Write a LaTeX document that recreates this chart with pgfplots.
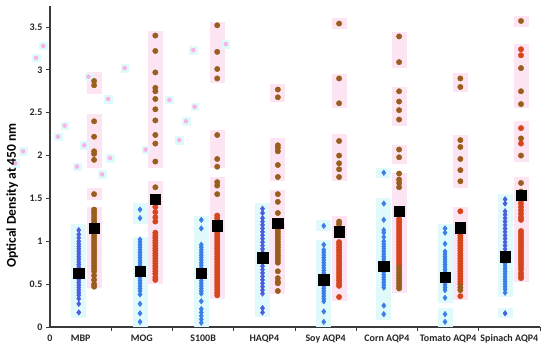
\documentclass[border=0pt]{standalone}
\usepackage{fontspec}
\setmainfont{Carlito}
\usepackage{pgfplots}
\pgfplotsset{compat=1.18}
\definecolor{dotblue}{HTML}{3C7DE6}
\definecolor{mbpblue}{HTML}{4E5CE0}
\definecolor{dotbrown}{HTML}{9A5E1C}
\definecolor{dotred}{HTML}{D6461C}
\definecolor{bandpink}{HTML}{FCE4F3}
\definecolor{bandcyan}{HTML}{E0FAFC}
\definecolor{straypink}{HTML}{F7B2E6}
\definecolor{axisgray}{HTML}{3A3A3A}
\begin{document}
\begin{tikzpicture}
\begin{axis}[
  scale only axis, width=490pt, height=321pt,
  xmin=0, xmax=8, ymin=0, ymax=3.745,
  axis lines*=left,
  axis line style={axisgray, line width=1.2pt},
  clip=false,
  xtick={1,...,8}, xticklabels={},
  extra x ticks={0,0.5,1.5,2.5,3.5,4.5,5.5,6.5,7.5},
  extra x tick labels={0,MBP,MOG,S100B,HAQP4,Soy AQP4,Corn AQP4,Tomato AQP4,Spinach AQP4},
  extra x tick style={tick style={draw=none}},
  ytick={0,0.5,...,3.5},
  tick align=outside, major tick length=4pt,
  tick style={axisgray, line width=0.9pt},
  ticklabel style={font=\bfseries\fontsize{10}{12}\selectfont, text=black!85},
  /pgf/number format/assume math mode=true,
  ylabel={Optical Density at 450 nm},
  ylabel style={font=\bfseries\fontsize{13.5}{15}\selectfont, at={(axis description cs:-0.077,0.41)}, anchor=center},
]
% background bands (image artefacts)
\addplot[bandcyan, line width=15pt, unbounded coords=jump, forget plot] coordinates {
 (0.47,0.10) (0.47,1.20)
 (1.47,nan) (1.47,0.00) (1.47,1.05) (1.47,nan) (1.47,1.20) (1.47,1.45)
 (2.47,nan) (2.47,0.00) (2.47,1.30)
 (3.47,nan) (3.47,0.12) (3.47,1.45)
 (4.47,nan) (4.47,0.00) (4.47,1.02) (4.47,nan) (4.47,1.12) (4.47,1.25)
 (5.45,nan) (5.45,0.08) (5.45,1.50) (5.45,nan) (5.45,1.74) (5.45,1.86)
 (6.45,nan) (6.45,0.00) (6.45,0.22) (6.45,nan) (6.45,0.28) (6.45,1.20)
 (7.43,nan) (7.43,0.10) (7.43,0.22) (7.43,nan) (7.43,0.35) (7.43,1.55)
};
\addplot[bandpink, line width=15pt, unbounded coords=jump, forget plot] coordinates {
 (0.72,0.45) (0.72,1.40) (0.72,nan) (0.72,1.48) (0.72,1.62) (0.72,nan) (0.72,1.85) (0.72,2.48) (0.72,nan) (0.72,2.72) (0.72,2.98)
 (1.72,nan) (1.72,0.50) (1.72,1.70) (1.72,nan) (1.72,1.85) (1.72,3.45)
 (2.73,nan) (2.73,0.33) (2.73,1.75) (2.73,nan) (2.73,1.85) (2.73,2.30) (2.73,nan) (2.73,2.85) (2.73,3.56)
 (3.72,nan) (3.72,0.38) (3.72,1.60) (3.72,nan) (3.72,1.70) (3.72,2.20) (3.72,nan) (3.72,2.62) (3.72,2.84)
 (4.72,nan) (4.72,0.30) (4.72,1.30) (4.72,nan) (4.72,1.70) (4.72,2.25) (4.72,nan) (4.72,2.55) (4.72,2.95) (4.72,nan) (4.72,3.48) (4.72,3.60)
 (5.70,nan) (5.70,0.40) (5.70,1.80) (5.70,nan) (5.70,1.90) (5.70,2.12) (5.70,nan) (5.70,2.35) (5.70,2.80) (5.70,nan) (5.70,3.02) (5.70,3.44)
 (6.70,nan) (6.70,0.32) (6.70,1.40) (6.70,nan) (6.70,1.62) (6.70,2.24) (6.70,nan) (6.70,2.74) (6.70,2.96)
 (7.69,nan) (7.69,0.52) (7.69,1.75) (7.69,nan) (7.69,1.92) (7.69,2.40) (7.69,nan) (7.69,2.55) (7.69,3.30) (7.69,nan) (7.69,3.50) (7.69,3.63)
};
% stray faint dots (image artefacts)
\addplot[only marks, color=bandcyan, mark=square*, mark size=3.8pt, forget plot] coordinates {
 (0.63,2.92) (0.95,2.66) (1.22,3.02) (0.56,2.12) (0.44,1.87) (0.98,1.97) (0.85,1.78) (0.24,2.35) (0.13,2.22)
 (1.56,2.07) (1.95,2.65) (2.11,2.18) (2.22,2.40) (2.36,2.57) (2.34,3.23) (2.87,3.30)
 (-0.44,2.05) (-0.57,1.91) (-0.11,3.28) (-0.23,3.14)
};
\addplot[only marks, color=straypink, mark=*, mark size=2pt, forget plot] coordinates {
 (0.63,2.92) (0.95,2.66) (1.22,3.02) (0.56,2.12) (0.44,1.87) (0.98,1.97) (0.85,1.78) (0.24,2.35) (0.13,2.22)
 (1.56,2.07) (1.95,2.65) (2.11,2.18) (2.22,2.40) (2.36,2.57) (2.34,3.23) (2.87,3.30)
 (-0.44,2.05) (-0.57,1.91) (-0.11,3.28) (-0.23,3.14)
};
% blue diamonds
\addplot[only marks, color=mbpblue, mark=diamond*, mark size=2.8pt] coordinates {
 (0.47,1.13) (0.47,1.08) (0.47,1.04) (0.47,1.00) (0.47,0.97) (0.47,0.94) (0.47,0.91) (0.47,0.88) (0.47,0.85) (0.47,0.82)
 (0.47,0.79) (0.47,0.76) (0.47,0.73) (0.47,0.70) (0.47,0.67) (0.47,0.64) (0.47,0.61) (0.47,0.58) (0.47,0.55) (0.47,0.52)
 (0.47,0.49) (0.47,0.46) (0.47,0.43) (0.47,0.40) (0.47,0.37) (0.47,0.33) (0.47,0.27) (0.47,0.17)
 (3.47,1.38) (3.47,1.33) (3.47,1.27) (3.47,1.23) (3.47,1.19) (3.47,1.15) (3.47,1.11) (3.47,1.07) (3.47,1.03) (3.47,0.99)
 (3.47,0.95) (3.47,0.91) (3.47,0.87) (3.47,0.83) (3.47,0.79) (3.47,0.75) (3.47,0.71) (3.47,0.67) (3.47,0.63) (3.47,0.59)
 (3.47,0.55) (3.47,0.51) (3.47,0.47) (3.47,0.43) (3.47,0.39) (3.47,0.22) (3.47,0.17)
 (7.43,1.49) (7.43,1.44) (7.43,1.35) (7.43,1.31) (7.43,1.27) (7.43,1.23) (7.43,1.19) (7.43,1.15) (7.43,1.11) (7.43,1.07)
 (7.43,1.03) (7.43,0.99) (7.43,0.95) (7.43,0.91) (7.43,0.87) (7.43,0.16)
};
\addplot[only marks, color=dotblue, mark=diamond*, mark size=2.8pt] coordinates {
 (1.47,1.37) (1.47,1.27) (1.47,1.02) (1.47,0.99) (1.47,0.96) (1.47,0.93) (1.47,0.90) (1.47,0.87) (1.47,0.84) (1.47,0.81)
 (1.47,0.78) (1.47,0.75) (1.47,0.72) (1.47,0.69) (1.47,0.66) (1.47,0.57) (1.47,0.54) (1.47,0.51) (1.47,0.48) (1.47,0.45)
 (1.47,0.42) (1.47,0.38) (1.47,0.27) (1.47,0.16) (1.47,0.06)
 (2.47,1.25) (2.47,1.15) (2.47,0.96) (2.47,0.93) (2.47,0.90) (2.47,0.87) (2.47,0.84) (2.47,0.81) (2.47,0.78) (2.47,0.75)
 (2.47,0.72) (2.47,0.69) (2.47,0.66) (2.47,0.63) (2.47,0.60) (2.47,0.57) (2.47,0.54) (2.47,0.51) (2.47,0.48) (2.47,0.45)
 (2.47,0.42) (2.47,0.39) (2.47,0.30) (2.47,0.21) (2.47,0.17) (2.47,0.13) (2.47,0.09) (2.47,0.05)
 (4.47,1.18) (4.47,0.96) (4.47,0.90) (4.47,0.87) (4.47,0.84) (4.47,0.81) (4.47,0.78) (4.47,0.75) (4.47,0.72) (4.47,0.69)
 (4.47,0.66) (4.47,0.63) (4.47,0.60) (4.47,0.57) (4.47,0.54) (4.47,0.51) (4.47,0.48) (4.47,0.45) (4.47,0.42) (4.47,0.39)
 (4.47,0.36) (4.47,0.33) (4.47,0.30) (4.47,0.18) (4.47,0.06)
 (5.45,1.80) (5.45,1.44) (5.45,1.25) (5.45,1.13) (5.45,1.10) (5.45,1.05) (5.45,1.00) (5.45,0.97) (5.45,0.94) (5.45,0.91)
 (5.45,0.88) (5.45,0.85) (5.45,0.82) (5.45,0.79) (5.45,0.76) (5.45,0.73) (5.45,0.70) (5.45,0.67) (5.45,0.64) (5.45,0.61)
 (5.45,0.58) (5.45,0.55) (5.45,0.52) (5.45,0.49) (5.45,0.46) (5.45,0.25) (5.45,0.15)
 (6.45,1.15) (6.45,1.10) (6.45,0.97) (6.45,0.88) (6.45,0.85) (6.45,0.82) (6.45,0.79) (6.45,0.76) (6.45,0.73) (6.45,0.70)
 (6.45,0.67) (6.45,0.64) (6.45,0.61) (6.45,0.58) (6.45,0.55) (6.45,0.52) (6.45,0.49) (6.45,0.46) (6.45,0.43) (6.45,0.34)
 (6.45,0.15) (6.45,0.06)
 (7.43,0.80) (7.43,0.77) (7.43,0.74) (7.43,0.71) (7.43,0.68) (7.43,0.65) (7.43,0.62) (7.43,0.59) (7.43,0.56) (7.43,0.53)
 (7.43,0.50) (7.43,0.47) (7.43,0.44) (7.43,0.40)
};
% brown circles
\addplot[only marks, color=dotbrown, mark=*, mark size=2.7pt] coordinates {
 (0.72,2.87) (0.72,2.82) (0.72,2.40) (0.72,2.22) (0.72,2.05) (0.72,2.02) (0.72,1.95) (0.72,1.55) (0.72,1.37) (0.72,1.34)
 (0.72,1.31) (0.72,1.28) (0.72,1.25) (0.72,1.22) (0.72,1.19) (0.72,1.16) (0.72,1.13) (0.72,1.10) (0.72,1.07) (0.72,1.04)
 (0.72,1.01) (0.72,0.98) (0.72,0.95) (0.72,0.92) (0.72,0.89) (0.72,0.86) (0.72,0.83) (0.72,0.80) (0.72,0.77) (0.72,0.74)
 (0.72,0.71) (0.72,0.68) (0.72,0.65) (0.72,0.60) (0.72,0.55) (0.72,0.50) (0.72,0.47)
 (1.72,3.40) (1.72,3.22) (1.72,2.97) (1.72,2.79) (1.72,2.75) (1.72,2.66) (1.72,2.54) (1.72,2.41) (1.72,2.24) (1.72,2.14)
 (1.72,1.93) (1.72,1.63)
 (2.73,3.52) (2.73,3.21) (2.73,3.01) (2.73,2.90) (2.73,2.24) (2.73,1.96) (2.73,1.87) (2.73,1.69) (2.73,1.65) (2.73,1.55)
 (3.72,2.77) (3.72,2.68) (3.72,2.12) (3.72,2.09) (3.72,2.05) (3.72,1.89) (3.72,1.75) (3.72,1.55) (3.72,1.46) (3.72,1.33)
 (3.72,1.17) (3.72,1.14) (3.72,1.11) (3.72,1.08) (3.72,1.05) (3.72,1.02) (3.72,0.99) (3.72,0.96) (3.72,0.93) (3.72,0.90)
 (3.72,0.87) (3.72,0.84) (3.72,0.81) (3.72,0.78) (3.72,0.75) (3.72,0.65) (3.72,0.57) (3.72,0.53) (3.72,0.51) (3.72,0.42)
 (4.72,3.54) (4.72,2.90) (4.72,2.61) (4.72,2.17) (4.72,2.00) (4.72,1.91) (4.72,1.84) (4.72,1.75) (4.72,1.23) (4.72,1.20)
 (5.70,3.39) (5.70,3.09) (5.70,2.75) (5.70,2.63) (5.70,2.53) (5.70,2.42) (5.70,2.07) (5.70,1.98) (5.70,1.79) (5.70,1.72)
 (5.70,1.68) (5.70,1.63) (5.70,0.72) (5.70,0.69) (5.70,0.66) (5.70,0.63) (5.70,0.60) (5.70,0.57) (5.70,0.54) (5.70,0.51)
 (5.70,0.48) (5.70,0.45)
 (6.70,2.90) (6.70,2.80) (6.70,2.18) (6.70,2.10) (6.70,1.96) (6.70,1.83) (6.70,1.70) (6.70,0.50) (6.70,0.46) (6.70,0.43)
 (7.69,3.57) (7.69,3.02) (7.69,2.75) (7.69,2.60) (7.69,2.20) (7.69,2.00) (7.69,1.68) (7.69,1.58)
};
% red circles
\addplot[only marks, color=dotred, mark=*, mark size=2.7pt] coordinates {
 (1.72,1.40) (1.72,1.34) (1.72,1.28) (1.72,1.23) (1.72,1.10) (1.72,1.07) (1.72,1.04) (1.72,1.01) (1.72,0.98) (1.72,0.95)
 (1.72,0.92) (1.72,0.89) (1.72,0.86) (1.72,0.83) (1.72,0.80) (1.72,0.77) (1.72,0.74) (1.72,0.71) (1.72,0.68) (1.72,0.65)
 (1.72,0.62) (1.72,0.58) (1.72,0.55)
 (2.73,1.30) (2.73,1.27) (2.73,1.24) (2.73,1.21) (2.73,1.18) (2.73,1.15) (2.73,1.12) (2.73,1.09) (2.73,1.06) (2.73,1.03)
 (2.73,1.00) (2.73,0.97) (2.73,0.94) (2.73,0.91) (2.73,0.88) (2.73,0.85) (2.73,0.82) (2.73,0.79) (2.73,0.76) (2.73,0.73)
 (2.73,0.70) (2.73,0.67) (2.73,0.64) (2.73,0.61) (2.73,0.58) (2.73,0.55) (2.73,0.52) (2.73,0.49) (2.73,0.46) (2.73,0.43)
 (2.73,0.40) (2.73,0.37)
 (4.72,0.99) (4.72,0.96) (4.72,0.93) (4.72,0.90) (4.72,0.87) (4.72,0.84) (4.72,0.81) (4.72,0.78) (4.72,0.75) (4.72,0.72)
 (4.72,0.69) (4.72,0.66) (4.72,0.63) (4.72,0.60) (4.72,0.57) (4.72,0.54) (4.72,0.51) (4.72,0.48) (4.72,0.35)
 (5.70,1.26) (5.70,1.23) (5.70,1.20) (5.70,1.17) (5.70,1.14) (5.70,1.11) (5.70,1.08) (5.70,1.05) (5.70,1.02) (5.70,0.99)
 (5.70,0.96) (5.70,0.93) (5.70,0.90) (5.70,0.87) (5.70,0.84) (5.70,0.81) (5.70,0.78) (5.70,0.75)
 (6.70,1.35) (6.70,1.13) (6.70,1.10) (6.70,1.07) (6.70,1.04) (6.70,1.01) (6.70,0.98) (6.70,0.95) (6.70,0.92) (6.70,0.89)
 (6.70,0.86) (6.70,0.83) (6.70,0.80) (6.70,0.77) (6.70,0.74) (6.70,0.71) (6.70,0.68) (6.70,0.65) (6.70,0.62) (6.70,0.59)
 (6.70,0.56) (6.70,0.53) (6.70,0.36)
 (7.69,3.24) (7.69,3.17) (7.69,2.32) (7.69,2.14) (7.69,1.48) (7.69,1.44) (7.69,1.40) (7.69,1.36) (7.69,1.32) (7.69,1.28)
 (7.69,1.25) (7.69,1.12) (7.69,1.09) (7.69,1.06) (7.69,1.03) (7.69,1.00) (7.69,0.97) (7.69,0.94) (7.69,0.91) (7.69,0.88)
 (7.69,0.85) (7.69,0.82) (7.69,0.79) (7.69,0.76) (7.69,0.73) (7.69,0.70) (7.69,0.67) (7.69,0.63) (7.69,0.60) (7.69,0.57)
};
% means
\addplot[only marks, color=black, mark=square*, mark size=5.2pt] coordinates {
 (0.47,0.63) (0.72,1.15) (1.47,0.65) (1.72,1.49) (2.47,0.63) (2.73,1.18) (3.47,0.81) (3.72,1.21)
 (4.47,0.55) (4.72,1.11) (5.45,0.71) (5.70,1.35) (6.45,0.58) (6.70,1.16) (7.43,0.82) (7.69,1.54)
};
\end{axis}
\pgfresetboundingbox
\path (-50pt,-21pt) rectangle (500pt,327pt);
\end{tikzpicture}
\end{document}
